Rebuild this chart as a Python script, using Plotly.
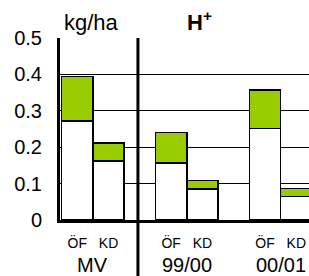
import plotly.graph_objects as go

groups = ["MV", "99/00", "00/01"]
bar_labels = ["ÖF", "KD"]
# white (lower) segment and total height for each bar, in group order ÖF, KD
lower = [[0.272, 0.162], [0.157, 0.085], [0.251, 0.065]]
total = [[0.394, 0.211], [0.240, 0.108], [0.357, 0.086]]
y_ticks = [0, 0.1, 0.2, 0.3, 0.4, 0.5]
y_tick_text = ["0", "0.1", "0.2", "0.3", "0.4", "0.5"]

FONT = "Liberation Sans, Arial, sans-serif"
GREEN = "#99CC00"

xs, lo, up, ticktext = [], [], [], []
for g in range(len(groups)):
    for b in range(len(bar_labels)):
        xs.append(3 * g + b)
        lo.append(lower[g][b])
        up.append(round(total[g][b] - lower[g][b], 4))
        ticktext.append(bar_labels[b])

fig = go.Figure()
fig.add_trace(go.Bar(x=xs, y=lo, width=1.0, marker=dict(color="white", line=dict(color="black", width=1.5)),
                     hoverinfo="skip"))
fig.add_trace(go.Bar(x=xs, y=up, width=1.0, marker=dict(color=GREEN, line=dict(color="black", width=1.5)),
                     hoverinfo="skip"))

for g, name in enumerate(groups):
    fig.add_annotation(x=3 * g + 0.5, xref="x", y=0, yref="paper", yanchor="top", yshift=-32,
                       text=name, showarrow=False, font=dict(family=FONT, size=20, color="black"))

fig.add_annotation(x=0.008, xref="paper", y=1, yref="paper", xanchor="left", yanchor="bottom", yshift=1,
                   text="kg/ha", showarrow=False, font=dict(family=FONT, size=22, color="black"))
fig.add_annotation(x=0.5, xref="paper", y=1, yref="paper", xanchor="left", yanchor="bottom", yshift=1,
                   text="<b>H<sup>+</sup></b>", showarrow=False, font=dict(family=FONT, size=22, color="black"))

fig.add_shape(type="line", xref="x", yref="paper", x0=1.94, x1=1.94, y0=1, y1=-0.35,
              line=dict(color="black", width=3))

fig.update_layout(
    barmode="stack",
    width=309, height=276,
    margin=dict(l=60, r=0, t=38, b=56),
    paper_bgcolor="white", plot_bgcolor="white",
    showlegend=False,
    xaxis=dict(range=[-0.55, 7.405], tickmode="array", tickvals=xs, ticktext=ticktext,
               showgrid=False, zeroline=False, showline=True, linecolor="black", linewidth=3,
               ticks="", ticklabelstandoff=8, tickfont=dict(family=FONT, size=14, color="black")),
    yaxis=dict(range=[0, 0.5], tickmode="array", tickvals=y_ticks, ticktext=y_tick_text,
               showgrid=True, gridcolor="black", gridwidth=1, zeroline=False,
               showline=True, linecolor="black", linewidth=3,
               ticks="", ticklabelstandoff=11, tickfont=dict(family=FONT, size=20, color="black")),
)

fig.write_html("out.html", config={"displayModeBar": False, "staticPlot": True},
               post_script="document.body.style.margin='0';document.body.style.overflow='hidden';")
